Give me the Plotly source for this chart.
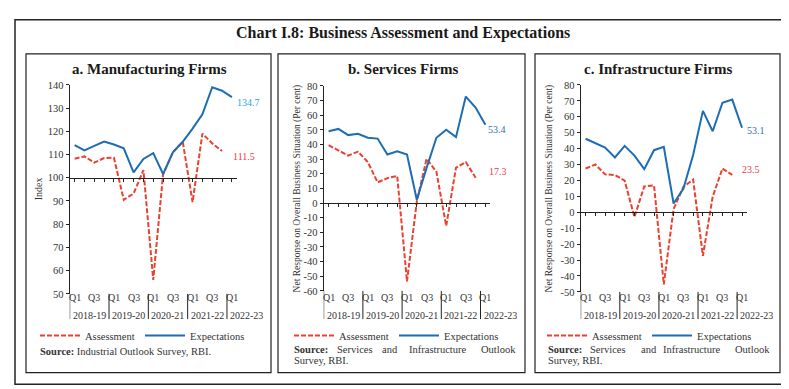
import plotly.graph_objects as go

W, H = 789, 389

# ---------------- data ----------------
quarter_ticks = ["Q1", "", "Q3", "", "Q1", "", "Q3", "", "Q1", "", "Q3", "", "Q1", "", "Q3", "", "Q1"]
year_labels = ["2018-19", "2019-20", "2020-21", "2021-22", "2022-23"]

mfg_assessment = [108.2, 109.2, 106.5, 108.5, 108.6, 90.5, 93.2, 103.3, 56.0, 101.5, 111.0, 115.5, 89.5, 119.0, 114.8, 111.5]
mfg_expectations = [114.1, 111.8, 113.7, 115.6, 114.3, 112.7, 102.3, 108.1, 110.6, 101.6, 111.0, 115.5, 121.2, 127.3, 139.0, 137.5, 134.7]

srv_assessment = [39.5, 36.0, 32.4, 35.1, 28.0, 14.1, 17.0, 18.5, -53.5, 1.0, 30.2, 21.4, -15.6, 24.1, 28.0, 17.3]
srv_expectations = [49.0, 50.6, 46.4, 47.3, 44.6, 44.0, 33.1, 35.3, 33.1, 2.2, 24.0, 44.6, 50.1, 45.0, 72.7, 65.2, 53.4]

inf_assessment = [27.5, 30.0, 23.8, 23.4, 19.8, -3.0, 16.3, 16.9, -45.3, 2.0, 16.0, 20.5, -27.4, 9.8, 27.5, 23.5]
inf_expectations = [46.2, 43.2, 40.7, 34.4, 41.7, 35.6, 27.1, 39.0, 41.1, 5.5, 14.7, 36.0, 63.7, 50.9, 68.8, 70.8, 53.1]

panel_titles = ["a. Manufacturing Firms", "b. Services Firms", "c. Infrastructure Firms"]
y_titles = ["Index", "Net Response on Overall Business Situation (Per cent)",
            "Net Response on Overall Business Situation (Per cent)"]
y_ranges = [(50, 140), (-60, 80), (-50, 80)]
y_step = 10
baselines = [100, 0, 0]

RED = "#EA4130"
BLUE = "#1D6DB5"
LABEL_BLUE = ["#2AA7DF", "#2E6DB4", "#2E6DB4"]
LABEL_RED = "#E8404A"
AXC = "#222222"
FONT = "Liberation Serif"

# ---------------- layout geometry (pixels) ----------------
plot_px = [  # x0, x1, ytop, ybottom
    (61.7, 228.8, 74, 289),
    (315.7, 482.3, 75, 286),
    (572.7, 738.9, 74, 287),
]
panel_box = [(18, 263), (270, 517), (527, 772)]
title_cx = [141, 395, 650]
ytitle_cx = [30, 289, 541]
legend_x = [27, 281, 534]
label_shift = [  # (expectation xshift,yshift),(assessment xshift,yshift)
    ((3, -5), (9, -5)),
    ((1, -5), (11, 6)),
    ((3, -3), (8, 5)),
]


def fx(x):
    return x / W


def fy(y):
    return 1 - y / H


fig = go.Figure()
annotations = []
shapes = []

series = [(mfg_assessment, mfg_expectations), (srv_assessment, srv_expectations),
          (inf_assessment, inf_expectations)]

for i, (assess, expect) in enumerate(series):
    k = "" if i == 0 else str(i + 1)
    xa, ya = "x" + k, "y" + k
    lg = "legend" + k
    fig.add_trace(go.Scatter(
        x=list(range(len(assess))), y=assess, mode="lines", name="Assessment",
        line=dict(color=RED, width=2, dash="5px,2px"), xaxis=xa, yaxis=ya, legend=lg,
        hoverinfo="skip"))
    fig.add_trace(go.Scatter(
        x=list(range(len(expect))), y=expect, mode="lines", name="Expectations",
        line=dict(color=BLUE, width=2), xaxis=xa, yaxis=ya, legend=lg,
        hoverinfo="skip"))

    x0, x1, yt, yb = plot_px[i]
    lo, hi = y_ranges[i]
    dy0, dy1 = fy(yb), fy(yt)
    base_pos = dy0 + (baselines[i] - lo) / (hi - lo) * (dy1 - dy0)
    n = len(expect)
    yt_vals = list(range(lo, hi + 1, y_step))

    fig.layout["xaxis" + k] = dict(
        domain=[fx(x0), fx(x1)], range=[-0.5, n - 0.5], anchor="free", position=base_pos,
        showline=True, linecolor=AXC, linewidth=1, ticks="outside", ticklen=3,
        tickcolor=AXC, tickvals=list(range(n)), showticklabels=False,
        showgrid=False, zeroline=False, fixedrange=True)
    fig.layout["yaxis" + k] = dict(
        domain=[dy0, dy1], range=[lo, hi], anchor=xa, showline=True, linecolor=AXC,
        linewidth=1, ticks="outside", ticklen=3, tickcolor=AXC,
        tickvals=yt_vals, ticktext=[str(v) for v in yt_vals],
        tickfont=dict(family=FONT, size=10.5, color="#333"), showgrid=False,
        zeroline=False, fixedrange=True)

    # quarter labels and year labels
    for j, t in enumerate(quarter_ticks):
        if t:
            annotations.append(dict(x=j, y=fy(293), xref=xa, yref="paper", text=t,
                                    showarrow=False, xanchor="center", yanchor="middle",
                                    font=dict(family=FONT, size=10, color="#333")))
    for g, yl in enumerate(year_labels):
        start = 4 * g - 0.5
        if g < len(year_labels) - 1:
            annotations.append(dict(x=start + 2, y=fy(311), xref=xa, yref="paper", text=yl,
                                    showarrow=False, xanchor="center", yanchor="middle",
                                    font=dict(family=FONT, size=10, color="#333")))
        else:
            annotations.append(dict(x=start, y=fy(311), xref=xa, yref="paper", text=yl,
                                    showarrow=False, xanchor="left", xshift=1, yanchor="middle",
                                    font=dict(family=FONT, size=10, color="#333")))
        shapes.append(dict(type="line", xref=xa, yref="paper", x0=start, x1=start,
                           y0=fy(yb), y1=fy(315), line=dict(color=AXC, width=1)))

    # end value labels
    (ex, ey), (ax_, ay_) = label_shift[i]
    annotations.append(dict(x=n - 1, y=expect[-1], xref=xa, yref=ya, text=f"{expect[-1]:.1f}",
                            showarrow=False, xanchor="left", yanchor="middle", xshift=ex, yshift=ey,
                            font=dict(family=FONT, size=10, color=LABEL_BLUE[i])))
    annotations.append(dict(x=len(assess) - 1, y=assess[-1], xref=xa, yref=ya,
                            text=f"{assess[-1]:.1f}", showarrow=False, xanchor="left",
                            yanchor="middle", xshift=ax_, yshift=ay_,
                            font=dict(family=FONT, size=10, color=LABEL_RED)))

    # panel title
    annotations.append(dict(x=fx(title_cx[i]), y=fy(58), xref="paper", yref="paper",
                            text=f"<b>{panel_titles[i]}</b>", showarrow=False,
                            xanchor="center", yanchor="middle",
                            font=dict(family=FONT, size=15, color="#1a1a1a")))
    # y-axis title
    annotations.append(dict(x=fx(ytitle_cx[i]), y=(dy0 + dy1) / 2, xref="paper", yref="paper",
                            text=y_titles[i], textangle=-90, showarrow=False,
                            xanchor="center", yanchor="middle",
                            font=dict(family=FONT, size=9.5 if i else 10, color="#333")))

    # legend
    fig.layout[lg] = dict(orientation="h", x=fx(legend_x[i]), y=fy(332), xanchor="left",
                          yanchor="middle", bgcolor="rgba(0,0,0,0)", itemwidth=40,
                          entrywidth=50, font=dict(family=FONT, size=10.5, color="#333"),
                          traceorder="normal")

    # panel box
    shapes.append(dict(type="rect", xref="paper", yref="paper", x0=fx(panel_box[i][0]),
                       x1=fx(panel_box[i][1]), y0=fy(370), y1=fy(42),
                       line=dict(color="#222", width=1.2)))

# outer box
shapes.append(dict(type="rect", xref="paper", yref="paper", x0=fx(7), x1=fx(783),
                   y0=fy(382), y1=fy(7), line=dict(color="#222", width=1.5)))

# main title
annotations.append(dict(x=fx(395), y=fy(21), xref="paper", yref="paper",
                        text="<b>Chart I.8: Business Assessment and Expectations</b>",
                        showarrow=False, xanchor="center", yanchor="middle",
                        font=dict(family=FONT, size=16, color="#1a1a1a")))

# source notes
src_font = dict(family=FONT, size=10.5, color="#333")
annotations.append(dict(x=fx(30), y=fy(348), xref="paper", yref="paper",
                        text="<b>Source:</b> Industrial Outlook Survey, RBI.", showarrow=False,
                        xanchor="left", yanchor="middle", font=src_font))
words = ["<b>Source:</b>", "Services", "and", "Infrastructure", "Outlook"]
word_x = [[284, 327, 372, 399, 471], [538, 580, 631, 653, 725]]
for wx, left in zip(word_x, [284, 538]):
    for w, x in zip(words, wx):
        annotations.append(dict(x=fx(x), y=fy(346), xref="paper", yref="paper", text=w,
                                showarrow=False, xanchor="left", yanchor="middle", font=src_font))
    annotations.append(dict(x=fx(left), y=fy(358), xref="paper", yref="paper",
                            text="Survey, RBI.", showarrow=False, xanchor="left",
                            yanchor="middle", font=src_font))

fig.update_layout(width=W, height=H, margin=dict(l=0, r=0, t=0, b=0),
                  paper_bgcolor="white", plot_bgcolor="white", showlegend=True,
                  annotations=annotations, shapes=shapes,
                  font=dict(family=FONT, color="#333"))

fig.write_html("out.html")
